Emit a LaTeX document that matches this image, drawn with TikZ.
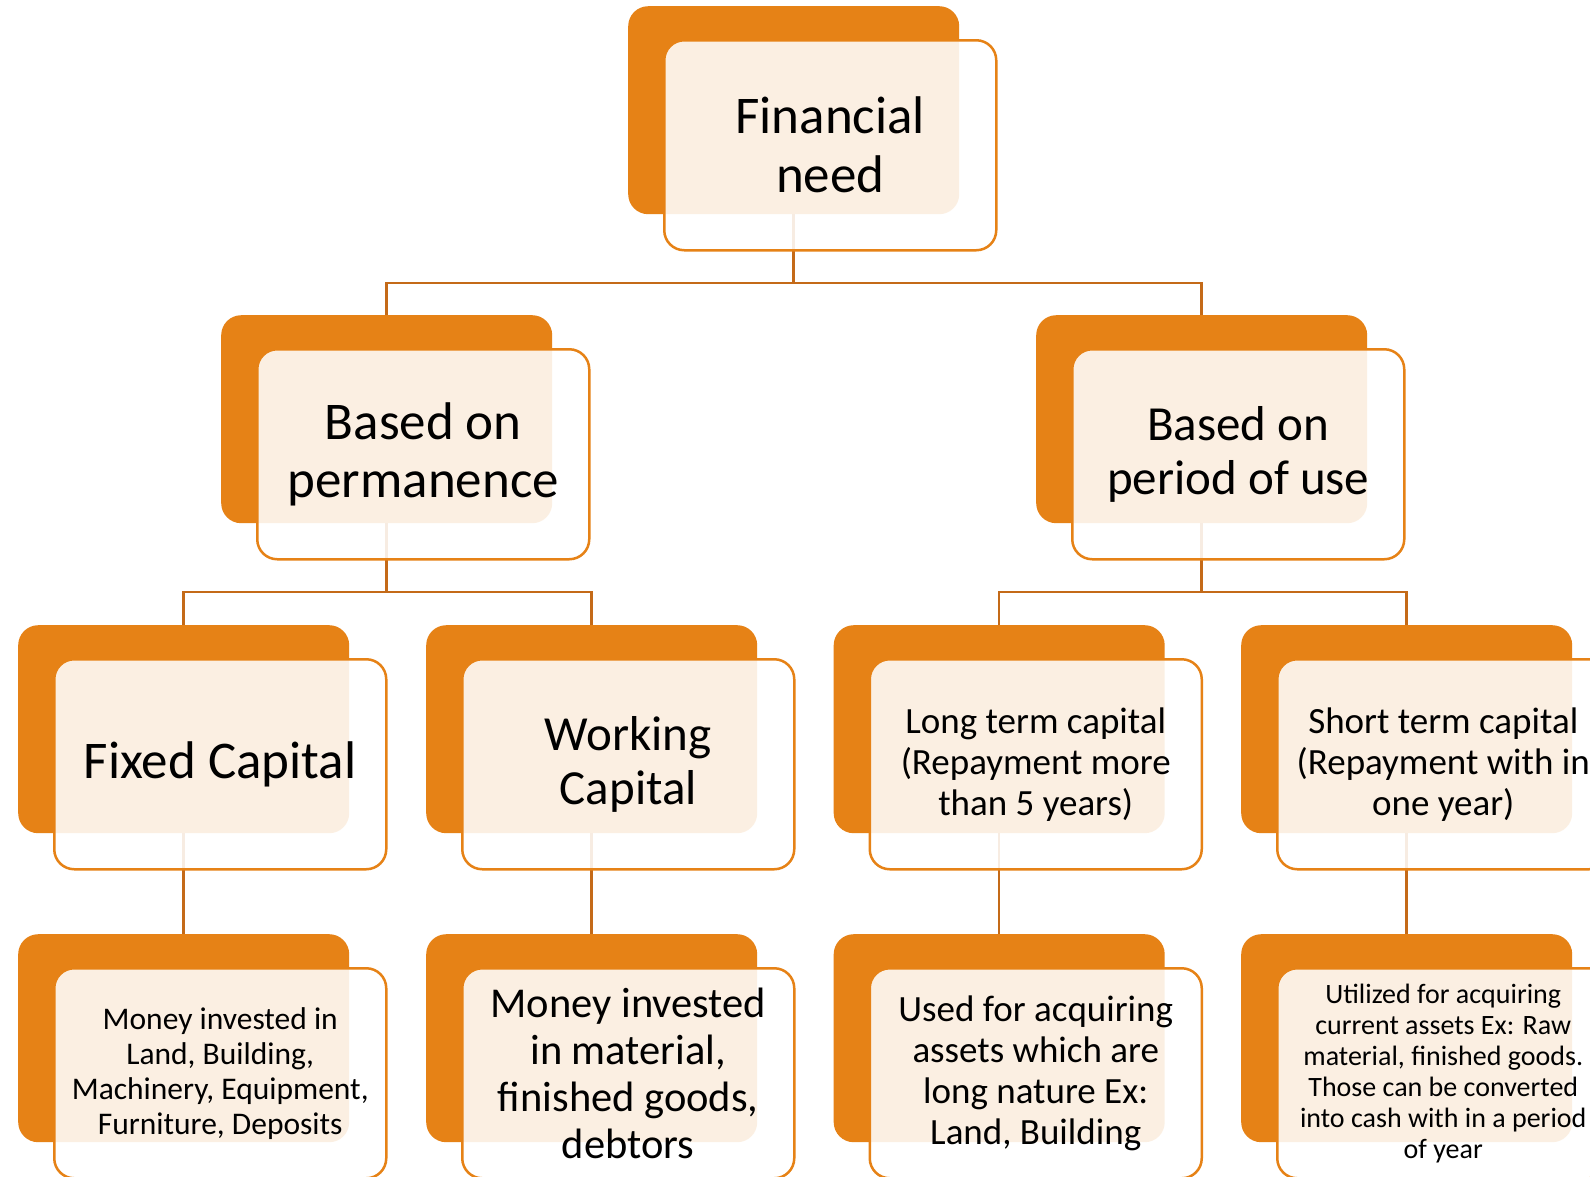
\documentclass[tikz,border=0pt]{standalone}
\usepackage{fontspec}
\setmainfont{Carlito}
\definecolor{boxorange}{RGB}{230,130,22}
\definecolor{linkorange}{RGB}{196,106,24}
\begin{document}
\begin{tikzpicture}[x=1pt,y=-1pt,
  back/.style={rectangle,rounded corners=20,fill=boxorange,anchor=north west,
    minimum width=331,minimum height=208,inner sep=0},
  front/.style={rectangle,rounded corners=20,draw=boxorange,line width=2.5,
    fill=white,fill opacity=0.88,text opacity=1,anchor=north west,
    minimum width=332,minimum height=210,align=center,inner sep=0,text=black},
  conn/.style={draw=linkorange,line width=2.5},
  fsize/.style 2 args={font=\fontsize{#1}{#2}\selectfont}]
\clip (0,0) rectangle (1590,1176);
\fill[white] (0,0) rectangle (1590,1176);

% back panels (positions of the hierarchy)
\path (628,6)    node[back] (o0) {};
\path (221,315)  node[back] (o1) {};
\path (1036,315) node[back] (o2) {};
\path (18,625)   node[back] (o3) {};
\path (426,625)  node[back] (o4) {};
\path (833.5,625) node[back] (o5) {};
\path (1241,625) node[back] (o6) {};
\path (18,934)   node[back] (o7) {};
\path (426,934)  node[back] (o8) {};
\path (833.5,934) node[back] (o9) {};
\path (1241,934) node[back] (o10) {};

% connectors (under the front panels)
\coordinate (j0) at (o0.south |- 0,283);
\coordinate (j1) at (o1.south |- 0,592);
\coordinate (j2) at (o2.south |- 0,592);
\draw[conn] (o0.south) -- (j0);
\draw[conn] (o1.north) |- (j0) -| (o2.north);
\draw[conn] (o1.south) -- (j1);
\draw[conn] (o3.north) |- (j1) -| (o4.north);
\draw[conn] (o2.south) -- (j2);
\draw[conn] (o5.north) |- (j2) -| (o6.north);
\draw[conn] (o3.south) -- (o7.north);
\draw[conn] (o4.south) -- (o8.north);
\draw[conn] (o5.south) -- (o9.north);
\draw[conn] (o6.south) -- (o10.north);

% front panels with the labels
\node[front,fsize={53}{59}] (f0) at ([shift={(35,33)}]o0.north west) {Financial\\need};
\node[front,fsize={53}{58}] (f1) at ([shift={(35,33)}]o1.north west) {Based on\\permanence};
\node[front,fsize={49}{54}] (f2) at ([shift={(35,33)}]o2.north west) {Based on\\period of use};
\node[front,fsize={53}{59}] (f3) at ([shift={(35,33)}]o3.north west) {Fixed Capital};
\node[front,fsize={49}{54}] (f4) at ([shift={(35,33)}]o4.north west) {Working\\Capital};
\node[front,fsize={37}{41}] (f5) at ([shift={(35,33)}]o5.north west) {Long term capital\\(Repayment more\\than 5 years)};
\node[front,fsize={37}{41}] (f6) at ([shift={(35,33)}]o6.north west) {Short term capital\\(Repayment with in\\one year)};
\node[front,fsize={31.5}{35}] (f7) at ([shift={(35,33)}]o7.north west) {Money invested in\\Land, Building,\\Machinery, Equipment,\\Furniture, Deposits};
\node[front,fsize={42.5}{47}] (f8) at ([shift={(35,33)}]o8.north west) {Money invested\\in material,\\finished goods,\\debtors};
\node[front,fsize={37}{41}] (f9) at ([shift={(35,33)}]o9.north west) {Used for acquiring\\assets which are\\long nature Ex:\\Land, Building};
\node[front,fsize={28}{31}] (f10) at ([shift={(35,33)}]o10.north west) {Utilized for acquiring\\current assets Ex: Raw\\material, finished goods.\\Those can be converted\\into cash with in a period\\of year};
\end{tikzpicture}
\end{document}
